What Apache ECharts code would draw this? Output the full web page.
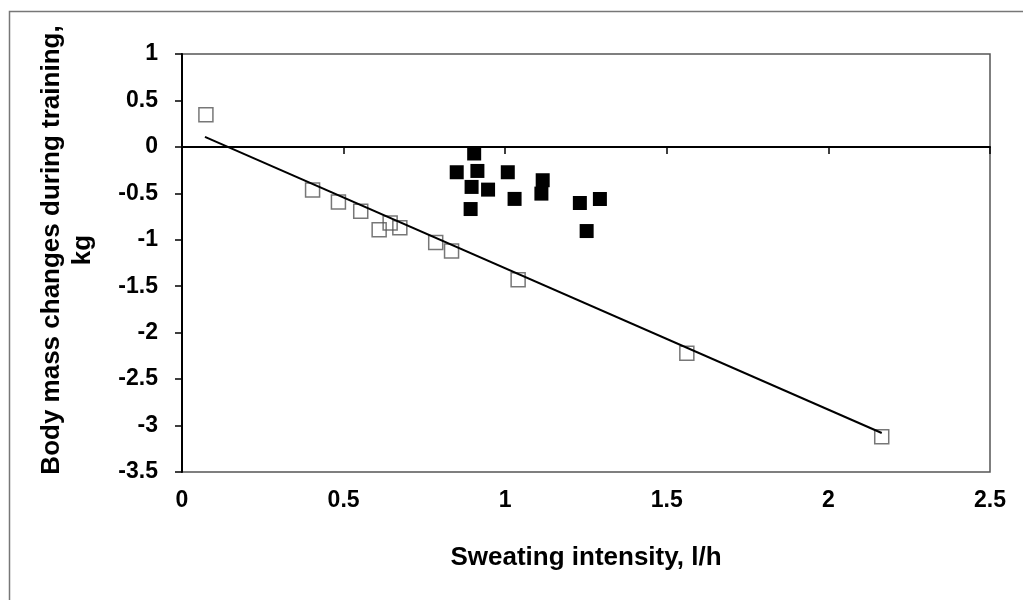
<!DOCTYPE html>
<html>
<head>
<meta charset="utf-8">
<script src="https://cdn.jsdelivr.net/npm/echarts@6/dist/echarts.min.js"></script>
<style>html,body{margin:0;padding:0;background:#fff}#c{width:1023px;height:600px}</style>
</head>
<body>
<div id="c"></div>
<script>
// Open squares
const openX = [0.074, 0.404, 0.484, 0.553, 0.610, 0.644, 0.674, 0.785, 0.834, 1.040, 1.562, 2.165];
const openY = [0.345, -0.464, -0.593, -0.694, -0.891, -0.820, -0.870, -1.030, -1.120, -1.430, -2.222, -3.120];
// Filled squares
const filledX = [0.904, 0.850, 0.914, 1.008, 0.896, 0.947, 1.029, 1.116, 1.112, 0.893, 1.231, 1.293, 1.252];
const filledY = [-0.071, -0.273, -0.259, -0.273, -0.431, -0.460, -0.560, -0.359, -0.503, -0.669, -0.604, -0.561, -0.906];
// Trend line end points
const trendX = [0.071, 2.165];
const trendY = [0.108, -3.080];

const xTitle = 'Sweating intensity, l/h';
const yTitle = 'Body mass changes during training,\nkg';

const zip = (a, b) => a.map((v, i) => [v, b[i]]);
const FONT = 'Liberation Sans';

const chart = echarts.init(document.getElementById('c'), null, {renderer: 'canvas'});
chart.setOption({
  animation: false,
  backgroundColor: '#fff',
  grid: {left: 182, top: 54, right: 33, bottom: 128, show: true, borderColor: '#555', borderWidth: 1.5},
  graphic: [
    {type: 'rect', shape: {x: 9.5, y: 11.5, width: 1040, height: 620}, style: {fill: 'none', stroke: '#777', lineWidth: 1.5}, silent: true},
    {type: 'text', x: 67, y: 250, rotation: Math.PI / 2,
     style: {text: yTitle, fontFamily: FONT, fontWeight: 'bold', fontSize: 26, lineHeight: 31, fill: '#000', align: 'center', verticalAlign: 'middle'}}
  ],
  xAxis: [
    {type: 'value', min: 0, max: 2.5, interval: 0.5,
     axisLine: {onZero: true, lineStyle: {color: '#000', width: 2}},
     axisTick: {show: true, length: 7, lineStyle: {color: '#000', width: 1.5}},
     axisLabel: {show: false}, splitLine: {show: false}},
    {type: 'value', min: 0, max: 2.5, interval: 0.5, position: 'bottom',
     axisLine: {show: false, onZero: false}, axisTick: {show: false}, splitLine: {show: false},
     axisLabel: {show: true, margin: 17, color: '#000', fontFamily: FONT, fontWeight: 'bold', fontSize: 23},
     name: xTitle, nameLocation: 'middle', nameGap: 73,
     nameTextStyle: {color: '#000', fontFamily: FONT, fontWeight: 'bold', fontSize: 26}}
  ],
  yAxis: {type: 'value', min: -3.5, max: 1, interval: 0.5,
    axisLine: {show: true, onZero: false, lineStyle: {color: '#000', width: 2}},
    axisTick: {show: true, length: 7, lineStyle: {color: '#000', width: 1.5}},
    axisLabel: {margin: 24, color: '#000', fontFamily: FONT, fontWeight: 'bold', fontSize: 23},
    splitLine: {show: false}},
  series: [
    {type: 'scatter', xAxisIndex: 0, data: zip(openX, openY), symbol: 'rect', symbolSize: 14,
     itemStyle: {color: 'rgba(255,255,255,0)', borderColor: '#555', borderWidth: 1.5}, z: 2},
    {type: 'scatter', xAxisIndex: 0, data: zip(filledX, filledY), symbol: 'rect', symbolSize: 14,
     itemStyle: {color: '#000', opacity: 1}, z: 2},
    {type: 'line', xAxisIndex: 0, data: zip(trendX, trendY), symbol: 'none',
     lineStyle: {color: '#000', width: 2}, z: 3}
  ]
});
</script>
</body>
</html>
